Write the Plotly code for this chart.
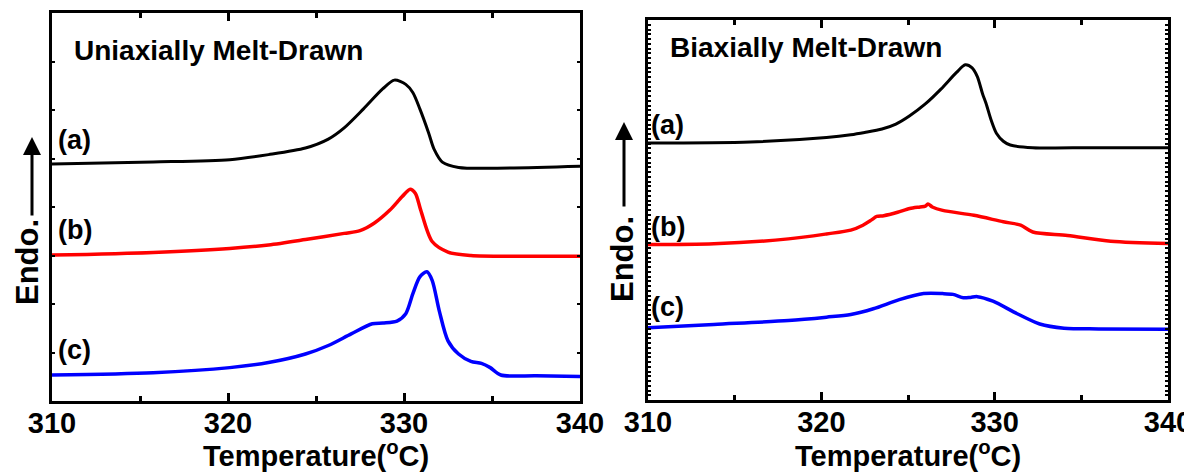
import plotly.graph_objects as go

# ---------------- data ----------------
# Left panel: Uniaxially Melt-Drawn
uni_a_T = [310, 315.75, 320.1, 322.3, 324.4, 325.7, 326.6, 327.7, 328.8, 329.45, 330.1, 330.5, 330.9, 331.4, 331.7, 332.2, 333.1, 335.3, 340]
uni_a_y = [6.11, 6.16, 6.22, 6.35, 6.52, 6.75, 7.04, 7.53, 8.05, 8.27, 8.16, 7.95, 7.53, 6.91, 6.50, 6.15, 6.02, 6.00, 6.05]

uni_b_T = [310, 315.75, 320.1, 322.3, 324.4, 326.6, 327.5, 328.3, 329.2, 329.9, 330.35, 330.65, 330.95, 331.6, 332.5, 333.8, 336.4, 340]
uni_b_y = [3.76, 3.83, 3.93, 4.02, 4.16, 4.32, 4.39, 4.58, 4.92, 5.27, 5.46, 5.35, 4.92, 4.11, 3.84, 3.75, 3.73, 3.73]

uni_c_T = [310, 315.75, 320.1, 322.3, 324.4, 325.7, 327.0, 328.2, 328.8, 329.6, 330.1, 330.5, 330.9, 331.3, 331.6, 332.0, 332.5, 333.1, 333.8, 334.4, 334.9, 335.5, 337.5, 340]
uni_c_y = [0.67, 0.73, 0.86, 0.99, 1.21, 1.43, 1.73, 1.99, 2.01, 2.06, 2.25, 2.76, 3.20, 3.33, 3.11, 2.33, 1.55, 1.21, 1.02, 0.97, 0.86, 0.67, 0.65, 0.63]

# Right panel: Biaxially Melt-Drawn
bi_a_T = [310, 315.9, 320.3, 321.7, 322.5, 323.5, 324.3, 325.1, 326.0, 326.9, 327.8, 328.3, 328.7, 329.0, 329.3, 329.5, 329.8, 330.1, 330.5, 330.9, 332.2, 335.6, 340]
bi_a_y = [6.76, 6.79, 6.91, 6.98, 7.04, 7.13, 7.26, 7.48, 7.79, 8.18, 8.62, 8.82, 8.74, 8.51, 8.06, 7.81, 7.36, 7.02, 6.81, 6.71, 6.64, 6.64, 6.64]

bi_b_T = [310, 313.8, 318.1, 320.3, 321.7, 322.4, 322.9, 323.2, 323.6, 324.4, 325.1, 325.7, 326.0, 326.15, 326.4, 327.0, 328.8, 330.5, 331.5, 332.2, 334.2, 336.7, 340]
bi_b_y = [4.09, 4.11, 4.24, 4.37, 4.47, 4.60, 4.74, 4.83, 4.85, 4.94, 5.04, 5.08, 5.10, 5.16, 5.08, 4.99, 4.86, 4.69, 4.60, 4.42, 4.33, 4.18, 4.12]

bi_c_T = [310, 313.8, 318.1, 320.3, 321.7, 323.0, 324.5, 325.9, 327.0, 327.6, 328.2, 328.6, 329.0, 329.9, 331.3, 332.6, 334.0, 336, 340]
bi_c_y = [1.90, 1.99, 2.09, 2.18, 2.25, 2.40, 2.64, 2.80, 2.80, 2.78, 2.69, 2.70, 2.72, 2.60, 2.27, 2.00, 1.89, 1.87, 1.86]

x_ticks = [310, 320, 330, 340]
x_tick_labels = ["310", "320", "330", "340"]
curve_labels = ["(a)", "(b)", "(c)"]
panel_titles = ["Uniaxially Melt-Drawn", "Biaxially Melt-Drawn"]
x_title = "Temperature(<sup>o</sup>C)"
y_title = "Endo."

# ---------------- figure ----------------
# The page body has an 8px default margin, so the figure is sized to fill the
# rest of the 1192x472 window and positions below are given in window pixels.
OFF = 8
WIN_W, WIN_H = 1192, 472
W, H = WIN_W - OFF, WIN_H - OFF
FONT = "Arial, Liberation Sans, sans-serif"

def px(x):
    return (x - OFF) / W

def py(y):
    return (WIN_H - y) / H

fig = go.Figure()

def add_curve(T, y, color, width, xa, ya):
    fig.add_trace(go.Scatter(x=T, y=y, mode="lines", xaxis=xa, yaxis=ya,
                             line=dict(color=color, width=width, shape="spline", smoothing=0.8),
                             showlegend=False, hoverinfo="skip"))

add_curve(uni_a_T, uni_a_y, "#000000", 3, "x", "y")
add_curve(uni_b_T, uni_b_y, "#ff0000", 3.5, "x", "y")
add_curve(uni_c_T, uni_c_y, "#0000ff", 3.5, "x", "y")
add_curve(bi_a_T, bi_a_y, "#000000", 3, "x2", "y2")
add_curve(bi_b_T, bi_b_y, "#ff0000", 3.5, "x2", "y2")
add_curve(bi_c_T, bi_c_y, "#0000ff", 3.5, "x2", "y2")

# panel frames in window pixels
L = dict(x0=52, x1=580, y0=13, y1=401)
R = dict(x0=648, x1=1168, y0=20, y1=400)

def dom(p):
    return [px(p["x0"]), px(p["x1"])], [py(p["y1"]), py(p["y0"])]

Lx, Ly = dom(L)
Rx, Ry = dom(R)

xcommon = dict(range=[310, 340], tickvals=x_ticks, ticktext=x_tick_labels,
               ticks="inside", ticklen=8, tickwidth=2.5, tickcolor="black",
               showline=True, linewidth=3, linecolor="black", mirror="ticks",
               showgrid=False, zeroline=False, automargin=False,
               ticklabelstandoff=-6, ticklabeloverflow="allow",
               tickfont=dict(family=FONT, size=29, color="black", weight="bold"),
               minor=dict(tickvals=[315, 325, 335], ticks="inside", ticklen=5,
                          tickwidth=2.5, tickcolor="black"),
               fixedrange=True)
ycommon = dict(range=[0, 10], showticklabels=False, ticks="inside", ticklen=3,
               tickwidth=1.5, tickcolor="black", automargin=False,
               showline=True, linewidth=3, linecolor="black", mirror="ticks",
               showgrid=False, zeroline=False, fixedrange=True)

fig.update_layout(
    width=W, height=H, margin=dict(l=0, r=0, t=0, b=0, pad=0, autoexpand=False),
    paper_bgcolor="white", plot_bgcolor="white",
    xaxis=dict(domain=Lx, anchor="y", **xcommon),
    yaxis=dict(domain=Ly, anchor="x", tickvals=[1.25 * i for i in range(1, 8)], **ycommon),
    xaxis2=dict(domain=Rx, anchor="y2", **xcommon),
    yaxis2=dict(domain=Ry, anchor="x2", tickvals=[0.125 * i for i in range(1, 80)], **ycommon),
)

ann = []
def txt(x, y, text, size, **kw):
    ann.append(dict(x=px(x), y=py(y), xref="paper", yref="paper", text=text,
                    showarrow=False, borderpad=0,
                    font=dict(family=FONT, size=size, color="black", weight="bold"),
                    **kw))

# panel titles
txt(73, 50, panel_titles[0], 28, xanchor="left", yanchor="middle")
txt(669, 47, panel_titles[1], 28, xanchor="left", yanchor="middle")

# curve labels
for lab, yy in zip(curve_labels, [140, 230, 350]):
    txt(57, yy, lab, 27, xanchor="left", yanchor="middle")
for lab, yy in zip(curve_labels, [125, 227, 307]):
    txt(650, yy, lab, 27, xanchor="left", yanchor="middle")

# x titles
txt(316, 473, x_title, 29, xanchor="center", yanchor="bottom")
txt(908, 473, x_title, 29, xanchor="center", yanchor="bottom")

# y titles (rotated)
txt(27, 262, y_title, 31, xanchor="center", yanchor="middle", textangle=-90)
txt(622, 259, y_title, 31, xanchor="center", yanchor="middle", textangle=-90)

# arrows
for ax_x, y_bot, y_top in [(32, 217, 137), (624, 208, 122)]:
    ann.append(dict(x=px(ax_x), y=py(y_top), xref="paper", yref="paper",
                    ax=0, ay=(y_bot - y_top), text="", showarrow=True,
                    arrowhead=2, arrowsize=1.2, arrowwidth=3, arrowcolor="black"))

fig.update_layout(annotations=ann)

fig.write_html("out.html")
